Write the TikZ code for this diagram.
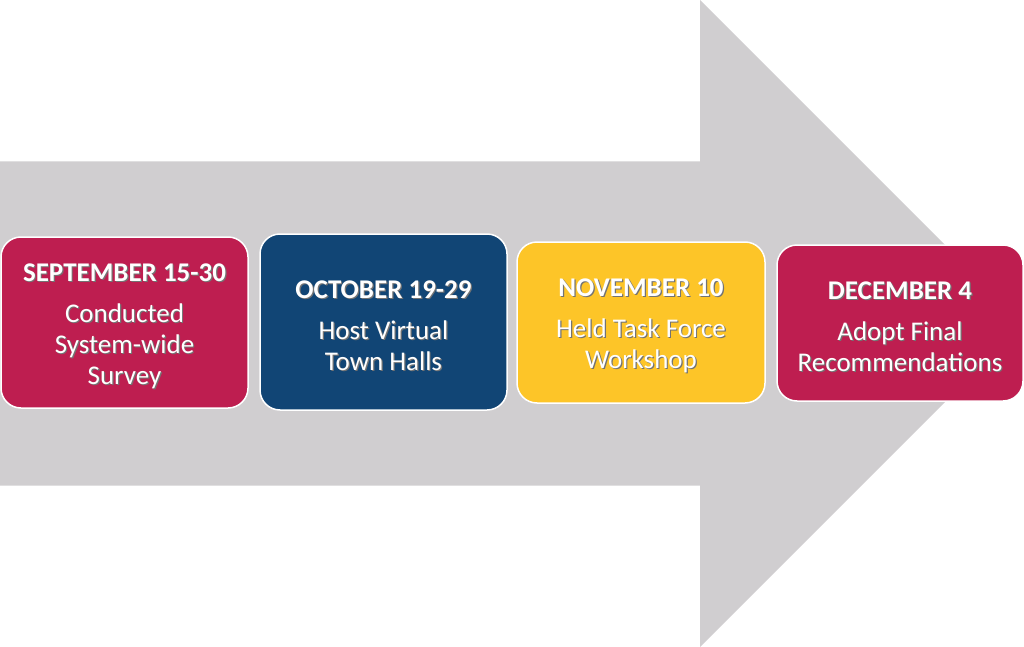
\documentclass[tikz,border=0pt]{standalone}
\usepackage{fontspec}
\setmainfont{Carlito}
\definecolor{crimson}{RGB}{190,30,80}
\definecolor{navy}{RGB}{17,69,117}
\definecolor{gold}{RGB}{253,197,40}
\definecolor{arrowgray}{RGB}{208,206,208}
\newcommand{\shd}[1]{\makebox[0pt][l]{\kern1.2pt\raisebox{-1.2pt}{\textcolor{black!55}{#1}}}#1}
\tikzset{
  stage/.style={draw=white, line width=1.5pt, rounded corners=20pt, inner sep=0pt},
  stagetext/.style={text=white, align=center, inner sep=0pt, font=\fontsize{27}{31}\selectfont},
}
\begin{document}
\begin{tikzpicture}[x=1pt,y=-1pt]
\useasboundingbox (0,0) rectangle (1024,647);
\fill[arrowgray] (0,161.5) -- (700,161.5) -- (700,0) -- (1023.5,323.5) -- (700,647) -- (700,485.5) -- (0,485.5) -- cycle;
\node[stage, fill=crimson, minimum width=247pt, minimum height=171pt] (s1) at (124.5,322.5) {};
\node[stage, fill=navy, minimum width=247pt, minimum height=176pt] (s2) at (383.5,322) {};
\node[stage, fill=gold, minimum width=248pt, minimum height=161pt] (s3) at (641,322.5) {};
\node[stage, fill=crimson, minimum width=246pt, minimum height=156pt] (s4) at (900,323) {};
\node[stagetext] (t1) at ([yshift=-4pt]s1.center)
  {\shd{\textbf{SEPTEMBER 15-30}}\\[10pt]\shd{Conducted}\\\shd{System-wide}\\\shd{Survey}};
\node[stagetext] (t2) at ([yshift=-4pt]s2.center)
  {\shd{\textbf{OCTOBER 19-29}}\\[10pt]\shd{Host Virtual}\\\shd{Town Halls}};
\node[stagetext] (t3) at ([yshift=-4pt]s3.center)
  {\shd{\textbf{NOVEMBER 10}}\\[10pt]\shd{Held Task Force}\\\shd{Workshop}};
\node[stagetext] (t4) at ([yshift=-4pt]s4.center)
  {\shd{\textbf{DECEMBER 4}}\\[10pt]\shd{Adopt Final}\\\shd{Recommendations}};
\end{tikzpicture}
\end{document}
